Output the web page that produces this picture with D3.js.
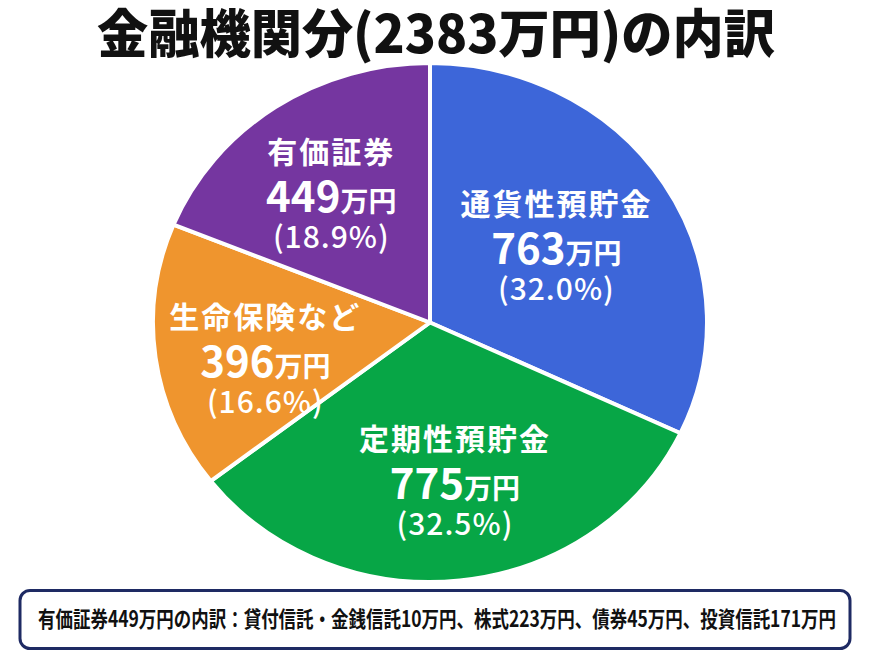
<!DOCTYPE html>
<html lang="ja">
<head>
<meta charset="UTF-8">
<title>金融機関分の内訳</title>
<script src="https://d3js.org/d3.v7.min.js"></script>
<style>
  body { margin: 0; background: #fff; }
  svg { display: block; font-family: "Noto Sans CJK JP", "Noto Sans", sans-serif; }
</style>
</head>
<body>
<div id="chart"></div>
<script>
// data
var categories = ["通貨性預貯金", "定期性預貯金", "生命保険など", "有価証券"];
var amounts = [763, 775, 396, 449];           // 万円
var shares = ["32.0", "32.5", "16.6", "18.9"]; // %
var titleText = "金融機関分(2383万円)の内訳";
var noteText = "有価証券449万円の内訳：貸付信託・金銭信託10万円、株式223万円、債券45万円、投資信託171万円";

var colors = ["#3d66d9", "#07a646", "#ef952e", "#7536a0"];

var w = 870, h = 658;
var cx = 430, cy = 322.5,
    ry = 259.5, rx = 277,
    sx = rx / ry;   // the pie is drawn a bit wider than tall

var svg = d3.select("#chart").append("svg")
    .attr("width", w)
    .attr("height", h);

svg.append("rect").attr("width", w).attr("height", h).attr("fill", "#fff");

// title
svg.append("text")
    .attr("x", 97)
    .attr("y", 53)
    .attr("textLength", 678)
    .attr("lengthAdjust", "spacingAndGlyphs")
    .attr("font-size", 52)
    .attr("font-weight", 900)
    .attr("fill", "#111")
    .text(titleText);

// pie
var pie = d3.pie().sort(null).value(function(d) { return d; });
var arcs = pie(amounts);
var arc = d3.arc().innerRadius(0).outerRadius(ry);
var labelArc = d3.arc().innerRadius(ry * 0.6).outerRadius(ry * 0.6);

var g = svg.append("g")
    .attr("transform", "translate(" + cx + "," + cy + ") scale(" + sx + ",1)");

g.selectAll("path")
    .data(arcs)
    .enter().append("path")
    .attr("d", arc)
    .attr("fill", function(d, i) { return colors[i]; })
    .attr("stroke", "#fff")
    .attr("stroke-width", 4)
    .attr("vector-effect", "non-scaling-stroke")
    .attr("stroke-linejoin", "round");

// small hand nudges so the labels sit like in the original
var nudge = {
    "通貨性預貯金": [-14, 25],
    "定期性預貯金": [7, 22],
    "生命保険など": [0, 34],
    "有価証券": [-6, 19]
};

var labels = svg.selectAll("g.label")
    .data(arcs)
    .enter().append("g")
    .attr("class", "label")
    .attr("transform", function(d, i) {
        var c = labelArc.centroid(d);
        var n = nudge[categories[i]];
        return "translate(" + (cx + c[0] * sx + n[0]) + "," + (cy + c[1] + n[1]) + ")";
    })
    .attr("fill", "#fff")
    .attr("text-anchor", "middle");

labels.append("text")
    .attr("y", -49)
    .attr("font-size", 30)
    .attr("font-weight", 700)
    .attr("letter-spacing", 2)
    .text(function(d, i) { return categories[i]; });

var num = labels.append("text")
    .attr("y", 0)
    .attr("font-weight", 700);
num.append("tspan")
    .attr("font-size", 42)
    .text(function(d, i) { return amounts[i]; });
num.append("tspan")
    .attr("font-size", 28)
    .text("万円");

labels.append("text")
    .attr("y", 36)
    .attr("font-size", 30)
    .attr("font-weight", 500)
    .attr("letter-spacing", 1)
    .text(function(d, i) { return "(" + shares[i] + "%)"; });

// note box
svg.append("rect")
    .attr("x", 20)
    .attr("y", 590.5)
    .attr("width", 830)
    .attr("height", 58)
    .attr("rx", 10)
    .attr("fill", "#fff")
    .attr("stroke", "#1e2a63")
    .attr("stroke-width", 3);

svg.append("text")
    .attr("x", 38)
    .attr("y", 627)
    .attr("textLength", 798)
    .attr("lengthAdjust", "spacingAndGlyphs")
    .attr("font-size", 22)
    .attr("font-weight", 700)
    .attr("fill", "#111")
    .text(noteText);
</script>
</body>
</html>
